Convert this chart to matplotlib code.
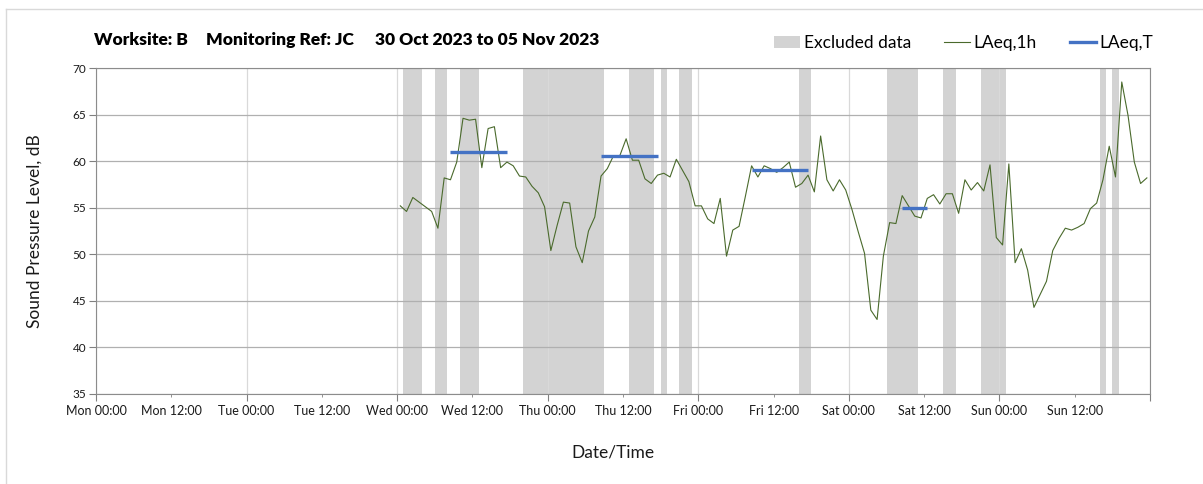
import matplotlib.pyplot as plt
import matplotlib.dates as mdates
from matplotlib.patches import Patch
from matplotlib.lines import Line2D
import pandas as pd

plt.rcParams['font.family'] = ['Lato', 'DejaVu Sans']

week_start = pd.Timestamp('2023-10-30 00:00')
week_end = pd.Timestamp('2023-11-06 00:00')

# hourly LAeq, plotted at mid-hour, from Wed 01 Nov 00:00
laeq_1h = [
    55.2, 54.6, 56.1, 55.6, 55.1, 54.6, 52.8, 58.2, 58.0, 59.9, 64.6, 64.4,
    64.5, 59.3, 63.5, 63.7, 59.3, 59.9, 59.5, 58.4, 58.3, 57.3, 56.6, 55.1,
    50.4, 53.1, 55.6, 55.5, 50.8, 49.1, 52.5, 54.0, 58.4, 59.2, 60.6, 60.6,
    62.4, 60.1, 60.1, 58.1, 57.6, 58.5, 58.7, 58.3, 60.2, 59.0, 57.8, 55.2,
    55.2, 53.8, 53.3, 56.0, 49.8, 52.6, 53.0, 56.2, 59.5, 58.3, 59.5, 59.2,
    58.8, 59.3, 59.9, 57.2, 57.6, 58.5, 56.7, 62.7, 58.0, 56.8, 58.0, 56.9,
    54.8, 52.4, 50.1, 44.0, 43.0, 49.8, 53.4, 53.3, 56.3, 55.2, 54.1, 53.9,
    56.0, 56.4, 55.4, 56.5, 56.5, 54.4, 58.0, 56.9, 57.7, 56.8, 59.6, 51.8,
    51.0, 59.7, 49.1, 50.6, 48.3, 44.3, 45.7, 47.1, 50.4, 51.7, 52.8, 52.6,
    52.9, 53.3, 54.9, 55.5, 58.0, 61.6, 58.3, 68.5, 64.9, 59.9, 57.6, 58.2,
]
times_1h = pd.date_range('2023-11-01 00:30', periods=len(laeq_1h), freq='h')

excluded = [
    ('2023-11-01 01:00', '2023-11-01 04:00'),
    ('2023-11-01 06:00', '2023-11-01 08:00'),
    ('2023-11-01 10:00', '2023-11-01 13:00'),
    ('2023-11-01 20:00', '2023-11-02 09:00'),
    ('2023-11-02 13:00', '2023-11-02 17:00'),
    ('2023-11-02 18:00', '2023-11-02 19:00'),
    ('2023-11-02 21:00', '2023-11-02 23:00'),
    ('2023-11-03 16:00', '2023-11-03 18:00'),
    ('2023-11-04 06:00', '2023-11-04 11:00'),
    ('2023-11-04 15:00', '2023-11-04 17:00'),
    ('2023-11-04 21:00', '2023-11-05 01:00'),
    ('2023-11-05 16:00', '2023-11-05 17:00'),
    ('2023-11-05 18:00', '2023-11-05 19:00'),
]

laeq_t = [61.0, 60.5, 59.0, 55.0]
laeq_t_periods = [
    ('2023-11-01 08:30', '2023-11-01 17:30'),
    ('2023-11-02 08:30', '2023-11-02 17:30'),
    ('2023-11-03 08:30', '2023-11-03 17:30'),
    ('2023-11-04 08:30', '2023-11-04 12:30'),
]

green = '#4a6a2c'
blue = '#4472c4'
band = '#d3d3d3'

fig = plt.figure(figsize=(12.03, 4.84), dpi=100)
ax = fig.add_axes([96 / 1203, 1 - 394 / 484, (1150 - 96) / 1203, (394 - 68) / 484])

for a, b in excluded:
    ax.axvspan(mdates.date2num(pd.Timestamp(a)), mdates.date2num(pd.Timestamp(b)),
               color=band, lw=0, zorder=0.1)

ax.plot(mdates.date2num(times_1h), laeq_1h, color=green, lw=0.8, zorder=3)

for v, (a, b) in zip(laeq_t, laeq_t_periods):
    ax.plot(mdates.date2num([pd.Timestamp(a), pd.Timestamp(b)]), [v, v],
            color=blue, lw=2.4, solid_capstyle='butt', zorder=4)

ax.set_xlim(mdates.date2num(week_start), mdates.date2num(week_end))
ax.set_ylim(35, 70)
ax.set_yticks(range(35, 71, 5))

# day ticks (long) and noon ticks (short)
days = pd.date_range(week_start, week_end, freq='D')
noons = pd.date_range(week_start + pd.Timedelta(hours=12), periods=7, freq='D')
ax.set_xticks(mdates.date2num(days),
              labels=[d.strftime('%a %H:%M') for d in days[:-1]] + [''])
ax.set_xticks(mdates.date2num(noons),
              labels=[d.strftime('%a %H:%M') for d in noons], minor=True)
ax.tick_params(axis='x', which='major', length=5, pad=3, color='#808080',
               labelsize=9, labelcolor='#1a1a1a')
ax.tick_params(axis='x', which='minor', length=2.5, pad=5.5, color='#808080',
               labelsize=9, labelcolor='#1a1a1a')
ax.tick_params(axis='y', length=5, color='#808080', labelsize=8.5,
               labelcolor='#1a1a1a', pad=2)

ax.set_axisbelow(True)
ax.grid(axis='y', color='#b0b0b0', lw=0.9)
ax.grid(axis='x', which='major', color='#d9d9d9', lw=0.9)
for s in ax.spines.values():
    s.set_color('#8c8c8c')

fig.text(35 / 1203, 1 - 231 / 484, 'Sound Pressure Level, dB', rotation=90,
         ha='center', va='center', fontsize=12.5, color='#1a1a1a')
fig.text(613 / 1203, 1 - 452 / 484, 'Date/Time', ha='center', va='center',
         fontsize=12.5, color='#1a1a1a')

# title in three parts
for x, s in [(94, 'Worksite: B'), (206, 'Monitoring Ref: JC'),
             (375, '30 Oct 2023 to 05 Nov 2023')]:
    fig.text(x / 1203, 1 - 40 / 484, s, ha='left', va='center',
             fontsize=12.5, fontweight='heavy', color='black')

handles = [Patch(facecolor=band, edgecolor='none'),
           Line2D([], [], color=green, lw=0.8),
           Line2D([], [], color=blue, lw=2.4)]
fig.legend(handles, ['Excluded data', 'LAeq,1h', 'LAeq,T'], ncol=3,
           loc='center left', bbox_to_anchor=(774 / 1203, 1 - 43 / 484),
           frameon=False, fontsize=12.5, handlelength=1.5, handletextpad=0.2,
           columnspacing=1.9, borderpad=0, borderaxespad=0)

# light outer border
fig.add_artist(Line2D([5.5 / 1203, 5.5 / 1203], [0, 1 - 9 / 484],
                      transform=fig.transFigure, color='#d9d9d9', lw=1))
fig.add_artist(Line2D([5.5 / 1203, 1], [1 - 9 / 484, 1 - 9 / 484],
                      transform=fig.transFigure, color='#d9d9d9', lw=1))

fig.savefig('out.png', dpi=100)
